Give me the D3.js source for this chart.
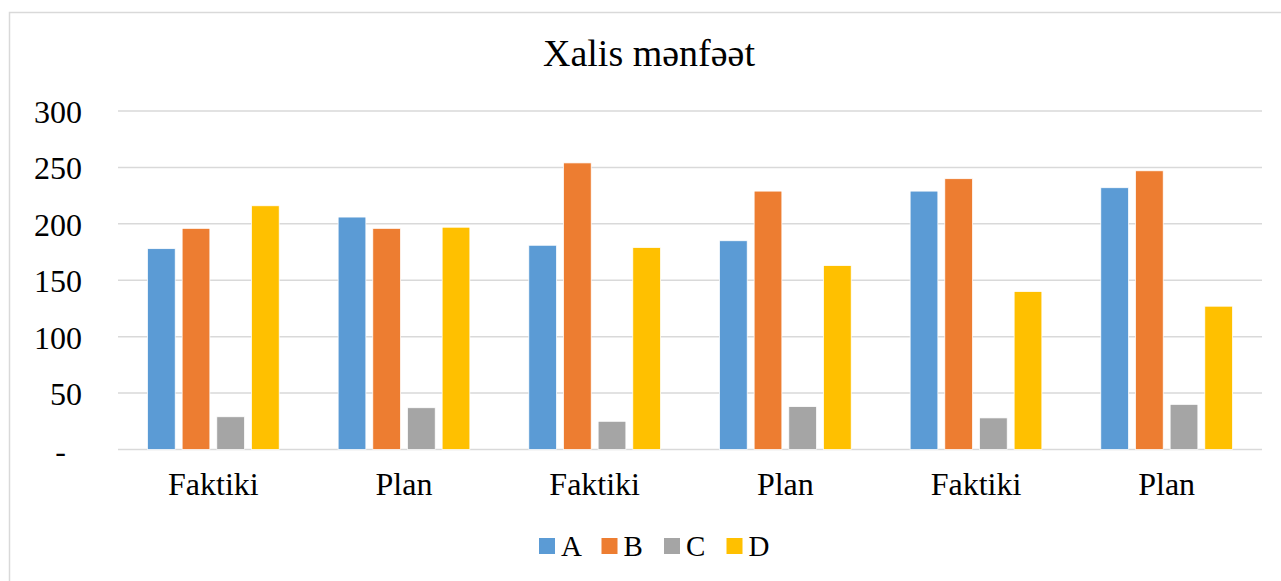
<!DOCTYPE html>
<html>
<head>
<meta charset="utf-8">
<script src="https://cdn.jsdelivr.net/npm/d3@7"></script>
<style>
  body { margin: 0; background: #fff; }
</style>
</head>
<body>
<div id="chart"></div>
<script>
// Données du graphique
const categories = ["Faktiki", "Plan", "Faktiki", "Plan", "Faktiki", "Plan"];
const seriesNames = ["A", "B", "C", "D"];
const valuesA = [178, 206, 181, 185, 229, 232];
const valuesB = [196, 196, 254, 229, 240, 247];
const valuesC = [29, 37, 25, 38, 28, 40];
const valuesD = [216, 197, 179, 163, 140, 127];
const yTicks = [0, 50, 100, 150, 200, 250, 300];
const colors = ["#5B9BD5", "#ED7D31", "#A5A5A5", "#FFC000"];

const FONT = "Liberation Serif";
const width = 1281;
const height = 581;
const margin = { top: 111, right: 19, bottom: 132, left: 118 };

const allSeries = [valuesA, valuesB, valuesC, valuesD];
const data = categories.map((c, i) => ({
  idx: i,
  cat: c,
  vals: seriesNames.map((s, j) => ({ key: s, value: allSeries[j][i] }))
}));

const svg = d3.select("#chart")
  .append("svg")
  .attr("width", width)
  .attr("height", height);

// cadre du graphique
svg.append("rect")
  .attr("x", 9.5).attr("y", 12.5)
  .attr("width", 1290).attr("height", 600)
  .attr("fill", "#fff")
  .attr("stroke", "#D9D9D9")
  .attr("stroke-width", 1.5);

// titre
svg.append("text")
  .attr("x", 649)
  .attr("y", 66)
  .attr("text-anchor", "middle")
  .attr("font-family", FONT)
  .attr("font-size", 38)
  .attr("fill", "#000")
  .text("Xalis mənfəət");

// échelles
const x0 = d3.scaleBand()
  .domain(d3.range(categories.length))
  .range([margin.left, width - margin.right])
  .padding(0);

const x1 = d3.scaleBand()
  .domain(seriesNames)
  .range([0, x0.bandwidth()])
  .paddingInner(0.2)
  .paddingOuter(0.85);

const y = d3.scaleLinear()
  .domain([0, 300])
  .range([height - margin.bottom + 0.5, margin.top]);

// grille
svg.append("g")
  .selectAll("line")
  .data(yTicks)
  .join("line")
  .attr("x1", margin.left)
  .attr("x2", width - margin.right)
  .attr("y1", d => y(d))
  .attr("y2", d => y(d))
  .attr("stroke", "#D9D9D9")
  .attr("stroke-width", 1.5);

// axe Y
const yAxis = d3.axisLeft(y)
  .tickValues(yTicks)
  .tickSize(0)
  .tickPadding(36)
  .tickFormat(d => d === 0 ? "-\u00a0\u00a0" : d);

svg.append("g")
  .attr("transform", `translate(${margin.left}, 0)`)
  .call(yAxis)
  .attr("font-family", FONT)
  .attr("font-size", 32)
  .call(g => g.select(".domain").remove())
  .selectAll("text")
  .attr("fill", "#000")
  .attr("dy", "0.36em");

// barres
const groups = svg.append("g")
  .selectAll("g")
  .data(data)
  .join("g")
  .attr("transform", d => `translate(${x0(d.idx)}, 0)`);

groups.selectAll("rect")
  .data(d => d.vals)
  .join("rect")
  .attr("x", d => x1(d.key))
  .attr("y", d => y(d.value))
  .attr("width", x1.bandwidth())
  .attr("height", d => y(0) - y(d.value))
  .attr("fill", (d, i) => colors[i])
  .attr("stroke", "#fff")
  .attr("stroke-width", 0.75);

// axe X
const xAxis = d3.axisBottom(x0)
  .tickSize(0)
  .tickPadding(23)
  .tickFormat(i => categories[i]);

svg.append("g")
  .attr("transform", `translate(0, ${y(0)})`)
  .call(xAxis)
  .attr("font-family", FONT)
  .attr("font-size", 32)
  .call(g => g.select(".domain").remove())
  .selectAll("text")
  .attr("fill", "#000");

// légende
const legendStart = 539;
const legendStep = 62.5;
const legend = svg.append("g")
  .selectAll("g")
  .data(seriesNames)
  .join("g")
  .attr("transform", (d, i) => `translate(${legendStart + i * legendStep}, 538)`);

legend.append("rect")
  .attr("width", 16)
  .attr("height", 16)
  .attr("fill", (d, i) => colors[i]);

legend.append("text")
  .attr("x", 22)
  .attr("y", 17.5)
  .attr("font-family", FONT)
  .attr("font-size", 29)
  .attr("fill", "#000")
  .text(d => d);
</script>
</body>
</html>
